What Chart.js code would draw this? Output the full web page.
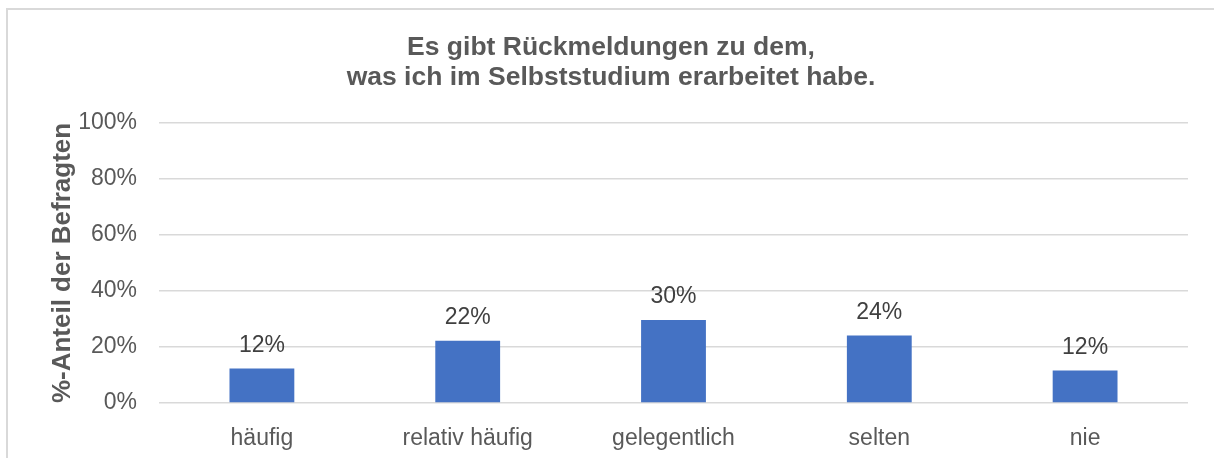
<!DOCTYPE html>
<html lang="de">
<head>
<meta charset="utf-8">
<title>Rückmeldungen Selbststudium</title>
<script src="https://cdn.jsdelivr.net/npm/chart.js@4"></script>
<style>
  html, body { margin: 0; padding: 0; background: #fff; overflow: hidden; }
  #wrap { position: relative; width: 1214px; height: 458px; }
  #frame {
    position: absolute; left: 6px; top: 8px; right: -10px; bottom: -10px;
    border: 2px solid #d9d9d9;
  }
  #chart { position: absolute; left: 0; top: 0; }
</style>
</head>
<body>
<div id="wrap">
  <div id="frame"></div>
  <canvas id="chart" width="1214" height="458"></canvas>
</div>
<script>
// Chart data
const categories = ['häufig', 'relativ häufig', 'gelegentlich', 'selten', 'nie'];
const shares = [12.3, 22.2, 29.6, 24.1, 11.6]; // % of respondents
const titleLines = ['Es gibt Rückmeldungen zu dem,', 'was ich im Selbststudium erarbeitet habe.'];
const yAxisTitle = '%-Anteil der Befragten';

const FONT = "'Liberation Sans', Arial, sans-serif";

// draws the value above each bar
const valueLabels = {
  id: 'valueLabels',
  afterDatasetsDraw(chart) {
    const ctx = chart.ctx;
    const meta = chart.getDatasetMeta(0);
    ctx.save();
    ctx.font = '23px ' + FONT;
    ctx.fillStyle = '#404040';
    ctx.textAlign = 'center';
    ctx.textBaseline = 'middle';
    meta.data.forEach((bar, i) => {
      ctx.fillText(Math.round(shares[i]) + '%', bar.x, bar.y - 23);
    });
    ctx.restore();
  },
};

new Chart(document.getElementById('chart'), {
  type: 'bar',
  data: {
    labels: categories,
    datasets: [{
      data: shares,
      backgroundColor: '#4472C4',
      borderWidth: 0,
      categoryPercentage: 1,
      barPercentage: 0.315,
    }],
  },
  options: {
    responsive: false,
    animation: false,
    devicePixelRatio: 1,
    // left padding keeps the title centred on the framed area
    layout: { padding: { left: 34, right: 26, top: 0, bottom: 0 } },
    plugins: {
      legend: { display: false },
      tooltip: { enabled: false },
      title: {
        display: true,
        text: titleLines,
        color: '#595959',
        font: { family: FONT, size: 26.5, weight: 'bold', lineHeight: 1.15 },
        padding: { top: 32, bottom: 30 },
      },
    },
    scales: {
      x: {
        grid: { display: false },
        border: { display: false },
        ticks: {
          color: '#595959',
          font: { family: FONT, size: 23 },
          padding: 14,
          maxRotation: 0,
        },
        afterFit(scale) { scale.height = 55; },
      },
      y: {
        min: 0,
        max: 100,
        ticks: {
          stepSize: 20,
          color: '#595959',
          font: { family: FONT, size: 23 },
          padding: 22,
          callback: (v) => v + '%',
        },
        grid: { color: '#d9d9d9', lineWidth: 1.5, drawTicks: false },
        border: { display: false },
        title: {
          display: true,
          text: yAxisTitle,
          color: '#595959',
          font: { family: FONT, size: 26, weight: 'bold' },
          padding: { top: 13, bottom: 0 },
        },
        afterFit(scale) { scale.width = 125; },
      },
    },
  },
  plugins: [valueLabels],
});
</script>
</body>
</html>
